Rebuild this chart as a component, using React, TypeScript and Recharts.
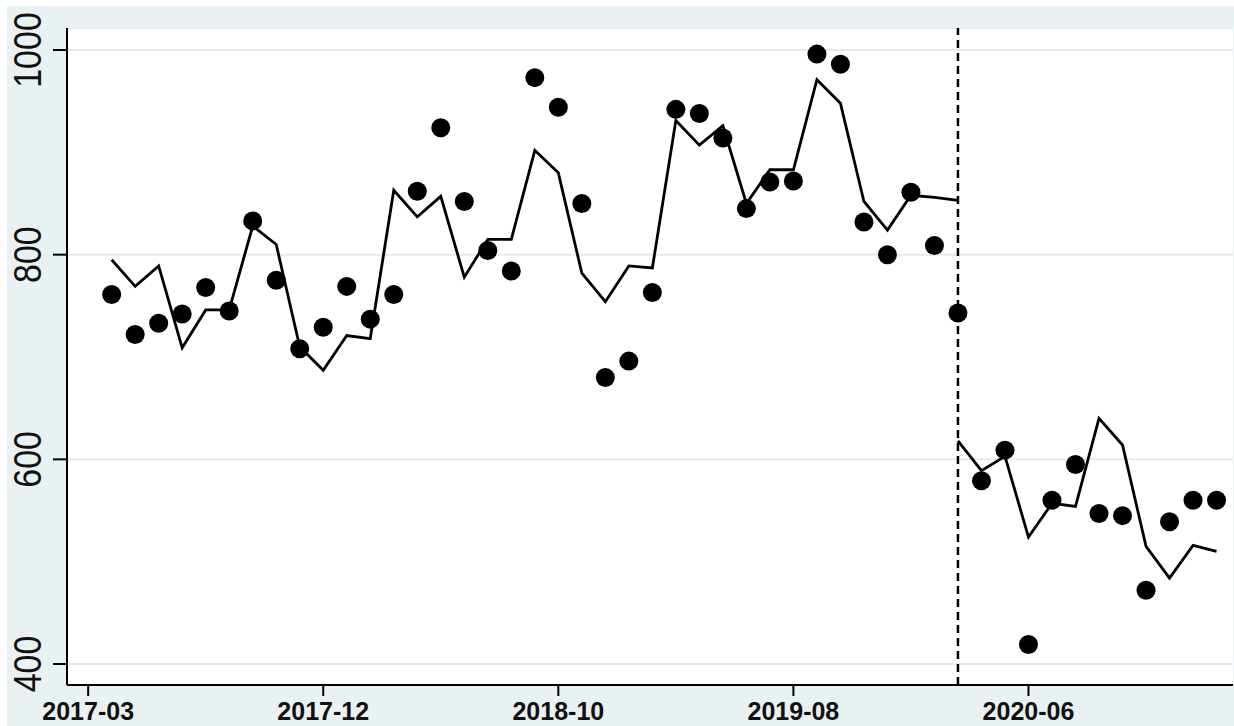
import React from 'react';
import {
  ComposedChart,
  Line,
  Scatter,
  XAxis,
  YAxis,
  CartesianGrid,
  ReferenceLine,
} from 'recharts';

// period index (4-week periods, 0 = 2017-03)
const periods = [
  1, 2, 3, 4, 5, 6, 7, 8, 9, 10, 11, 12, 13, 14, 15, 16, 17, 18, 19, 20, 21, 22, 23, 24,
  25, 26, 27, 28, 29, 30, 31, 32, 33, 34, 35, 36, 37, 38, 39, 40, 41, 42, 43, 44, 45, 46, 47, 48,
];

const observed = [
  761, 722, 733, 742, 768, 745, 833, 775, 708, 729, 769, 737, 761, 862, 924, 852, 804, 784, 973, 944,
  850, 680, 696, 763, 942, 938, 914, 845, 871, 872, 996, 986, 832, 800, 861, 809, 743, 579, 609, 419,
  560, 595, 547, 545, 472, 539, 560, 560,
];

// fitted line before the break (periods 1-37)
const fittedBefore = [
  795, 769, 789, 709, 746, 746, 828, 810, 710, 687, 721, 718, 863, 837, 857, 778, 815, 815, 902, 880,
  782, 754, 789, 787, 931, 907, 926, 850, 883, 883, 971, 948, 852, 824, 858, 856, 853,
];

// fitted line after the break (periods 37-48)
const fittedAfter = [618, 589, 603, 524, 557, 554, 640, 614, 515, 484, 516, 510];

const breakPeriod = 37;

const xTicks = [0, 10, 20, 30, 40];
const xTickLabels = ['2017-03', '2017-12', '2018-10', '2019-08', '2020-06'];
const yTicks = [400, 600, 800, 1000];

const data = periods.map((t, i) => ({
  t,
  observed: observed[i],
  before: t <= breakPeriod ? fittedBefore[i] : undefined,
  after: t >= breakPeriod ? fittedAfter[t - breakPeriod] : undefined,
}));

const XTick = (props: any) => {
  const { x, payload } = props;
  const idx = xTicks.indexOf(payload.value);
  return (
    <text
      x={x}
      y={720}
      textAnchor="middle"
      fontFamily="'Liberation Sans', Arial, sans-serif"
      fontWeight="bold"
      fontSize={25}
      fill="#111"
    >
      {idx >= 0 ? xTickLabels[idx] : payload.value}
    </text>
  );
};

const YTick = (props: any) => {
  const { y, payload } = props;
  return (
    <text
      transform={`translate(41,${y}) rotate(-90) scale(1,1.12)`}
      x={0}
      y={0}
      textAnchor="middle"
      fontFamily="'Liberation Sans', Arial, sans-serif"
      fontSize={34}
      fill="#111"
    >
      {payload.value}
    </text>
  );
};

const Dot = (props: any) => <circle cx={props.cx} cy={props.cy} r={9.5} fill="#000" />;

export default function App() {
  return (
    <div style={{ position: 'absolute', left: 0, top: 0, width: 1234, height: 726, background: '#fff' }}>
      <div style={{ position: 'absolute', left: 7, top: 6, right: 0, bottom: 0, background: '#eaf1f3' }} />
      <div style={{ position: 'absolute', left: 0, top: 0 }}>
        <ComposedChart width={1234} height={726} data={data} margin={{ top: 28, right: 1, bottom: 0, left: 7 }}>
          <CartesianGrid vertical={false} fill="#fff" stroke="#e3edef" strokeWidth={2} />
          <XAxis
            dataKey="t"
            type="number"
            domain={[-0.9, 48.7]}
            ticks={xTicks}
            allowDataOverflow
            height={41}
            tickSize={11}
            tick={<XTick />}
            axisLine={{ stroke: '#000', strokeWidth: 2 }}
            tickLine={{ stroke: '#000', strokeWidth: 2 }}
          />
          <YAxis
            type="number"
            domain={[379.5, 1021.5]}
            ticks={yTicks}
            allowDataOverflow
            width={60}
            tickSize={14}
            tick={<YTick />}
            axisLine={{ stroke: '#000', strokeWidth: 2 }}
            tickLine={{ stroke: '#000', strokeWidth: 2 }}
          />
          <ReferenceLine x={breakPeriod} stroke="#000" strokeWidth={2.5} strokeDasharray="8 5" />
          <Line
            dataKey="before"
            type="linear"
            stroke="#000"
            strokeWidth={2.8}
            dot={false}
            activeDot={false}
            connectNulls={false}
            isAnimationActive={false}
          />
          <Line
            dataKey="after"
            type="linear"
            stroke="#000"
            strokeWidth={2.8}
            dot={false}
            activeDot={false}
            connectNulls={false}
            isAnimationActive={false}
          />
          <Scatter dataKey="observed" shape={<Dot />} isAnimationActive={false} />
        </ComposedChart>
      </div>
    </div>
  );
}
